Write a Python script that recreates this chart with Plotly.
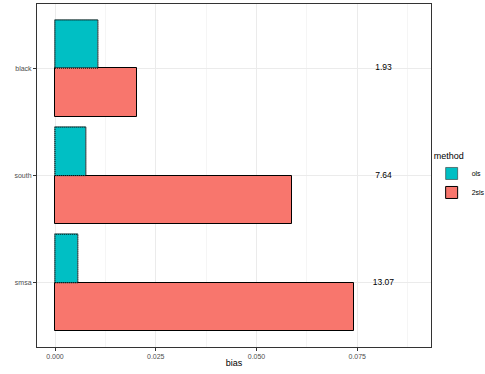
import plotly.graph_objects as go

variables = ["smsa", "south", "black"]
bias_ols = [0.0057, 0.0077, 0.0107]
bias_2sls = [0.0742, 0.0588, 0.0203]
ratio_labels = ["13.07", "7.64", "1.93"]
label_x = 0.0815

OLS_COLOR = "#00BFC4"
TSLS_COLOR = "#F8766D"
BAR_W = 0.45

pos = list(range(1, len(variables) + 1))

fig = go.Figure()

fig.add_trace(go.Bar(
    x=bias_2sls, y=pos, orientation="h", base=0,
    offset=-BAR_W, width=BAR_W,
    marker=dict(color=TSLS_COLOR, line=dict(color="black", width=1)),
    name="2sls", legendrank=2,
))
fig.add_trace(go.Bar(
    x=bias_ols, y=pos, orientation="h", base=0,
    offset=0, width=BAR_W,
    marker=dict(color=OLS_COLOR, line=dict(color="#333333", width=0.6)),
    name="ols", legendrank=1,
))

# dotted outline for the ols bars
for p, v in zip(pos, bias_ols):
    fig.add_trace(go.Scatter(
        x=[0, v, v, 0, 0], y=[p, p, p + BAR_W, p + BAR_W, p],
        mode="lines", line=dict(color="black", width=0.8, dash="1px,1px"),
        showlegend=False, hoverinfo="skip",
    ))

fig.add_trace(go.Scatter(
    x=[label_x] * len(pos), y=pos, mode="text", text=ratio_labels,
    textfont=dict(size=8.5, color="black"), showlegend=False,
))

fig.update_layout(
    width=485, height=374,
    margin=dict(l=37, r=54, t=4, b=27, autoexpand=False),
    plot_bgcolor="white", paper_bgcolor="white",
    font=dict(family="Liberation Sans, Arial, sans-serif", color="#4D4D4D"),
    barmode="overlay",
    bargap=0,
    legend=dict(
        title=dict(text="method", font=dict(size=9, color="black")),
        font=dict(size=7, color="black"),
        bgcolor="rgba(0,0,0,0)",
        xref="container", yref="container",
        x=0.89, xanchor="left", y=0.526, yanchor="middle",
        itemwidth=30, tracegroupgap=0,
    ),
)
fig.update_xaxes(
    range=[-0.00447, 0.0933],
    tickvals=[0, 0.025, 0.05, 0.075],
    ticktext=["0.000", "0.025", "0.050", "0.075"],
    tickfont=dict(size=7, color="#4D4D4D"),
    ticks="outside", ticklen=3, tickcolor="#333333",
    showgrid=True, gridcolor="#EBEBEB", gridwidth=1,
    minor=dict(tickvals=[0.0125, 0.0375, 0.0625, 0.0875], showgrid=True,
               gridcolor="#F5F5F5", gridwidth=0.5),
    zeroline=False,
    showline=True, linecolor="#333333", linewidth=1, mirror=True,
    title=dict(text="bias", font=dict(size=9, color="black"), standoff=0),
)
fig.update_yaxes(
    range=[0.4, 3.6],
    tickvals=pos, ticktext=variables,
    tickfont=dict(size=7, color="#4D4D4D"),
    ticks="outside", ticklen=3, tickcolor="#333333",
    showgrid=True, gridcolor="#EBEBEB", gridwidth=1,
    zeroline=False,
    showline=True, linecolor="#333333", linewidth=1, mirror=True,
)

fig.write_html("out.html", config={"displayModeBar": False},
               post_script="document.body.style.margin='0';")
